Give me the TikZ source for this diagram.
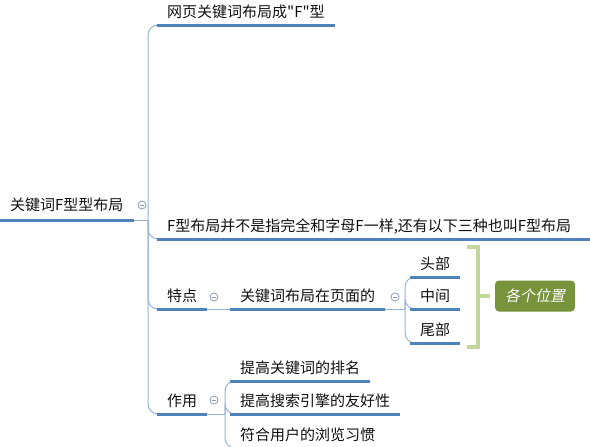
\documentclass[tikz,border=0pt]{standalone}
\usepackage{fontspec}
\newfontfamily\cjk{Noto Sans CJK SC}
\newfontfamily\cjkit{Noto Sans CJK SC}[FakeSlant=0.2]
\usetikzlibrary{positioning}

\definecolor{ublue}{HTML}{4F81BD}
\definecolor{lblue}{HTML}{95B3D7}
\definecolor{fgray}{HTML}{8A9AB5}
\definecolor{lgreen}{HTML}{C3D69B}
\definecolor{olive}{HTML}{77933C}
\definecolor{txt}{HTML}{111111}

\tikzset{
    topic/.style={anchor=south west, inner xsep=10pt, inner ysep=0pt,
        text height=12pt, text depth=7pt, text=txt,
        font=\cjk\fontsize{15}{18}\selectfont},
    uline/.style={draw=ublue, line width=3pt},
    link/.style={draw=lblue, line width=1pt, rounded corners=10pt},
    fold/.style={circle, draw=fgray, fill=white, line width=0.8pt,
        inner sep=0pt, minimum size=8pt,
        path picture={\draw[fgray, line width=0.8pt]
            ([xshift=-2pt]path picture bounding box.center) --
            ([xshift=2pt]path picture bounding box.center);}},
    brk/.style={draw=lgreen, line width=4pt},
    tagbox/.style={fill=olive, rounded corners=4pt, text=white,
        minimum width=80pt, minimum height=31pt, inner sep=0pt,
        font=\cjkit\fontsize{15}{18}\selectfont}
}

\begin{document}
\begin{tikzpicture}[x=1pt, y=-1pt]
    \useasboundingbox (0,0) rectangle (590,447);

    % Root and main branches
    \node[topic, text depth=9pt] (root) at (0,220) {关键词F型型布局};
    \node[topic] (b1) at (157,25) {网页关键词布局成"F"型};
    \node[topic, text width=413pt] (b2) at (157,239) {F型布局并不是指完全和字母F一样,还有以下三种也叫F型布局};
    \node[topic] (tp) at (157,309) {特点};
    \node[topic] (zy) at (157,414) {作用};

    % Sub topics
    \node[topic] (kw) at (230,309) {关键词布局在页面的};
    \node[topic] (tb) at (410,277) {头部};
    \node[topic] (zj) at (410,309) {中间};
    \node[topic] (wb) at (410,343) {尾部};
    \node[topic] (y1) at (230,381) {提高关键词的排名};
    \node[topic] (y2) at (230,414) {提高搜索引擎的友好性};
    \node[topic] (y3) at (230,448) {符合用户的浏览习惯};

    % Hubs where the branches split
    \coordinate (hub1) at (148,220);
    \coordinate (hub2) at (405,309);
    \coordinate (hub3) at (225,414);

    % Connectors
    \draw[link] (root.south east) -- (hub1);
    \foreach \n in {b1,b2,tp,zy}
        \draw[link] (hub1) |- (\n.south west);
    \draw[link] (tp.south east) -- (kw.south west);
    \draw[link] (kw.south east) -- (hub2);
    \foreach \n in {tb,zj,wb}
        \draw[link] (hub2) |- (\n.south west);
    \draw[link] (zy.south east) -- (hub3);
    \foreach \n in {y1,y2,y3}
        \draw[link] (hub3) |- (\n.south west);

    % Underlines
    \foreach \n in {root,b1,b2,tp,zy,kw,tb,zj,wb,y1,y2,y3}
        \draw[uline] (\n.south west) -- (\n.south east);

    % Fold markers
    \node[fold] (f0) at (142,205) {};
    \node[fold] (f1) at (214,297) {};
    \node[fold] (f2) at (395,297) {};
    \node[fold] (f3) at (214,400) {};

    % Summary bracket
    \node[tagbox] (pos) at (535,296) {各个位置};
    \coordinate (bt) at (467,247);
    \coordinate (bb) at (467,347);
    \draw[brk] (bt) -- ++(11,0) -- ++(0,100) -- (bb);
    \draw[brk, shorten >=5pt] (478,296) -- (pos.west);
\end{tikzpicture}
\end{document}
